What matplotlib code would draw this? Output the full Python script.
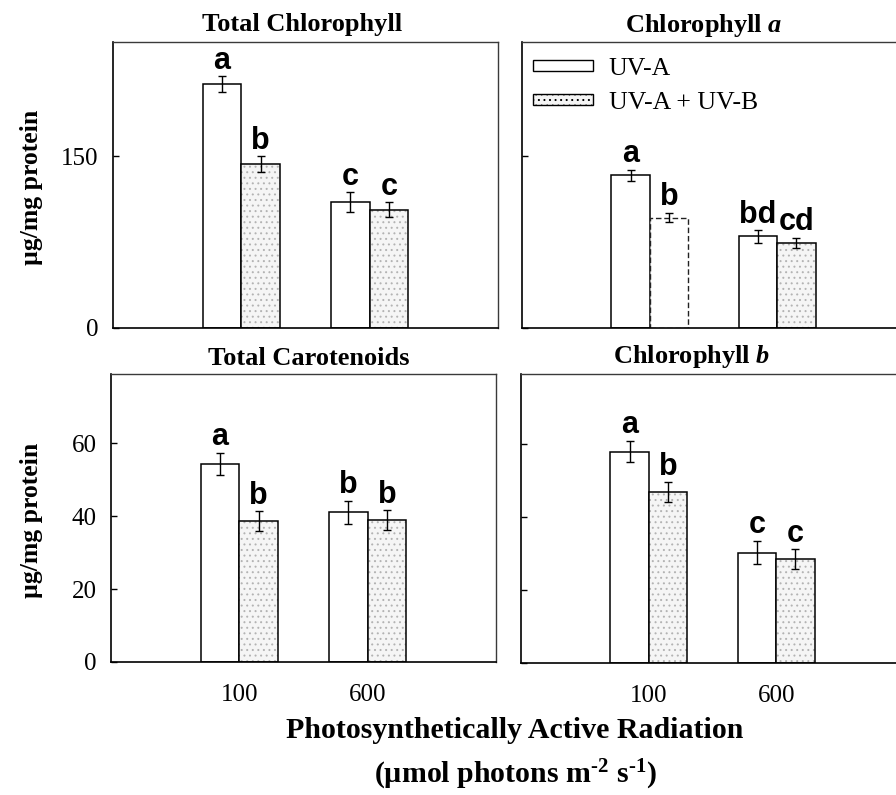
import matplotlib
matplotlib.use("Agg")
import matplotlib.pyplot as plt
from matplotlib.patches import Patch

plt.rcParams["font.family"] = ["Liberation Serif", "DejaVu Serif"]
plt.rcParams["mathtext.fontset"] = "custom"
plt.rcParams["mathtext.rm"] = "Liberation Serif:bold"
plt.rcParams["mathtext.bf"] = "Liberation Serif:bold"
plt.rcParams["mathtext.it"] = "Liberation Serif:bold:italic"
plt.rcParams["hatch.linewidth"] = 0.7

# ---- data -------------------------------------------------------------
par_levels = ["100", "600"]
series_names = ["UV-A", "UV-A + UV-B"]

total_chl_uva = [213.0, 110.0]
total_chl_uvab = [143.0, 103.5]
total_chl_uva_err = [7.0, 8.5]
total_chl_uvab_err = [7.0, 6.5]
total_chl_letters_uva = ["a", "c"]
total_chl_letters_uvab = ["b", "c"]

chl_a_uva = [133.5, 80.0]
chl_a_uvab = [96.5, 74.5]
chl_a_uva_err = [5.0, 5.5]
chl_a_uvab_err = [4.0, 4.5]
chl_a_letters_uva = ["a", "bd"]
chl_a_letters_uvab = ["b", "cd"]

carot_uva = [54.4, 41.1]
carot_uvab = [38.6, 38.9]
carot_uva_err = [3.0, 3.2]
carot_uvab_err = [2.7, 2.7]
carot_letters_uva = ["a", "b"]
carot_letters_uvab = ["b", "b"]

chl_b_uva = [57.8, 30.2]
chl_b_uvab = [46.7, 28.4]
chl_b_uva_err = [2.9, 3.2]
chl_b_uvab_err = [2.7, 2.7]
chl_b_letters_uva = ["a", "c"]
chl_b_letters_uvab = ["b", "c"]

# ---- layout -------------------------------------------------------------
W, H = 896, 795
fig = plt.figure(figsize=(W / 100, H / 100), dpi=100)


def axes_px(left, top, right, bottom):
    return fig.add_axes([left / W, 1 - bottom / H, (right - left) / W, (bottom - top) / H])


ax_tl = axes_px(113, 42, 498, 328)
ax_tr = axes_px(522, 42, 905, 328)
ax_bl = axes_px(111, 374, 496, 662)
ax_br = axes_px(521, 374, 904, 663)

BAR_W = 0.30
STIPPLE_FACE = "#f5f5f5"
STIPPLE_DOTS = "#b3b3b3"
LETTER_FONT = dict(family="Liberation Sans", weight="bold", size=22)


def draw_panel(ax, uva, uvab, uva_err, uvab_err, let_uva, let_uvab,
               ylim, yticks, show_ylabels, show_xlabels, title, title_x, title_pad,
               open_uvab=()):
    xs = list(range(len(par_levels)))
    x_uva = [x - BAR_W / 2 for x in xs]
    x_uvab = [x + BAR_W / 2 for x in xs]

    ax.bar(x_uva, uva, width=BAR_W, color="white", edgecolor="black", linewidth=1.1, zorder=2)

    for i, (x, v) in enumerate(zip(x_uvab, uvab)):
        if i in open_uvab:
            ax.bar(x, v, width=BAR_W, color="white", edgecolor="#222222", linewidth=1.0,
                   linestyle=(0, (4, 2)), zorder=2)
        else:
            ax.bar(x, v, width=BAR_W, color=STIPPLE_FACE, edgecolor=STIPPLE_DOTS,
                   linewidth=0, hatch="...", zorder=2)
            ax.bar(x, v, width=BAR_W, fill=False, edgecolor="black", linewidth=1.1, zorder=3)

    err_kw = dict(fmt="none", ecolor="black", elinewidth=1.0, capsize=3.2, capthick=1.0, zorder=4)
    ax.errorbar(x_uva, uva, yerr=uva_err, **err_kw)
    ax.errorbar(x_uvab, uvab, yerr=uvab_err, **err_kw)

    for xs_, vals, errs, lets in ((x_uva, uva, uva_err, let_uva), (x_uvab, uvab, uvab_err, let_uvab)):
        for x, v, e, t in zip(xs_, vals, errs, lets):
            ax.annotate(t, xy=(x, v + e), xytext=(0, 5.5), textcoords="offset points",
                        ha="center", va="baseline", **LETTER_FONT)

    ax.set_xlim(-1, 2)
    ax.set_ylim(*ylim)
    ax.set_yticks(yticks)
    ax.tick_params(axis="y", direction="in", length=4, width=1, pad=10.5, labelsize=18,
                   labelleft=show_ylabels)
    ax.set_xticks(xs)
    ax.set_xticklabels(par_levels if show_xlabels else [])
    ax.tick_params(axis="x", length=0, pad=16, labelsize=18, labelbottom=show_xlabels)

    for side in ("left", "bottom"):
        ax.spines[side].set_linewidth(1.2)
        ax.spines[side].set_color("black")
    for side in ("top", "right"):
        ax.spines[side].set_linewidth(1.0)
        ax.spines[side].set_color("#3a3a3a")

    ax.set_title(title, x=title_x, pad=title_pad, fontsize=19, fontweight="bold")


draw_panel(ax_tl, total_chl_uva, total_chl_uvab, total_chl_uva_err, total_chl_uvab_err,
           total_chl_letters_uva, total_chl_letters_uvab, (0, 250), [0, 150],
           True, False, "Total Chlorophyll", 0.492, 8)
draw_panel(ax_tr, chl_a_uva, chl_a_uvab, chl_a_uva_err, chl_a_uvab_err,
           chl_a_letters_uva, chl_a_letters_uvab, (0, 250), [0, 150],
           False, False, "Chlorophyll $\\mathit{a}$", 0.475, 7.5, open_uvab=(0,))
draw_panel(ax_bl, carot_uva, carot_uvab, carot_uva_err, carot_uvab_err,
           carot_letters_uva, carot_letters_uvab, (0, 79), [0, 20, 40, 60],
           True, True, "Total Carotenoids", 0.513, 6.5)
draw_panel(ax_br, chl_b_uva, chl_b_uvab, chl_b_uva_err, chl_b_uvab_err,
           chl_b_letters_uva, chl_b_letters_uvab, (0, 79), [0, 20, 40, 60],
           False, True, "Chlorophyll $\\mathit{b}$", 0.445, 8)

# legend
handles = [
    Patch(facecolor="white", edgecolor="black", linewidth=1.0, label=series_names[0]),
    Patch(facecolor=STIPPLE_FACE, edgecolor="black", linewidth=1.0, hatch="...",
          label=series_names[1]),
]
ax_tr.legend(handles=handles, loc="upper left", bbox_to_anchor=(0.029, 0.945),
             frameon=False, fontsize=18.5, handlelength=2.33, handleheight=0.3,
             handletextpad=0.62, labelspacing=0.46, borderpad=0, borderaxespad=0)

# y-axis labels
for ax in (ax_tl, ax_bl):
    pos = ax.get_position()
    fig.text(43 / W, pos.y0 + pos.height / 2 - 2 / H, "µg/mg protein", rotation=90,
             ha="right", va="center", fontsize=18.5, fontweight="bold")

# shared x-axis label
fig.text(515 / W, 1 - 738 / H, "Photosynthetically Active Radiation", ha="center",
         va="baseline", fontsize=21.5, fontweight="bold")
fig.text(515 / W, 1 - 783 / H, "(µmol photons m$^{\\text{-2}}$ s$^{\\text{-1}}$)",
         ha="center", va="baseline", fontsize=21.5, fontweight="bold")

fig.savefig("out.png", dpi=100)
